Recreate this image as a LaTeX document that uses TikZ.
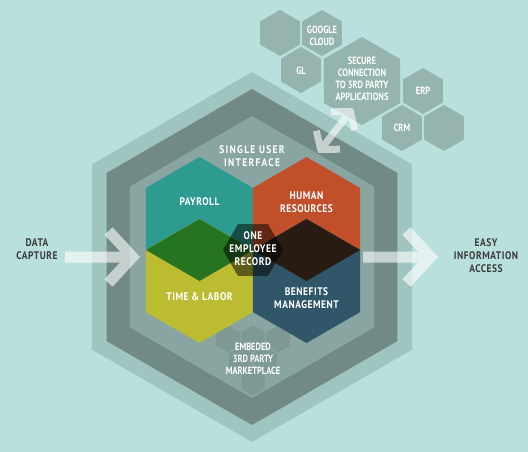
\documentclass[tikz,border=0pt]{standalone}
\usepackage{fontspec}
\setmainfont{PT Sans}[FakeStretch=0.86]
\usetikzlibrary{shapes.geometric,arrows.meta}

\definecolor{bgcol}{HTML}{B9E0DD}
\definecolor{outercol}{HTML}{A0C4C0}
\definecolor{ringcol}{HTML}{718A86}
\definecolor{innercol}{HTML}{88A5A1}
\definecolor{appcol}{HTML}{96B4AE}
\definecolor{mktcol}{HTML}{7E9894}
\definecolor{payrollcol}{HTML}{2D9B90}
\definecolor{hrcol}{HTML}{C1502A}
\definecolor{timecol}{HTML}{BCBC33}
\definecolor{benefitcol}{HTML}{325669}
\definecolor{greencol}{HTML}{26741F}
\definecolor{browncol}{HTML}{281C12}
\definecolor{labelgray}{HTML}{3B3B3B}

\newcommand\lab{\fontsize{11}{13}\selectfont\bfseries\addfontfeature{LetterSpace=5}}
\newcommand\widelab{\fontsize{11}{13}\selectfont\bfseries\addfontfeature{LetterSpace=12}}
\newcommand\smlab{\fontsize{10.5}{12}\selectfont\bfseries\addfontfeature{FakeStretch=0.8}}

\begin{document}
\begin{tikzpicture}[x=1pt,y=-1pt,
    hexa/.style = {regular polygon, regular polygon sides=6, shape border rotate=30,
                   inner sep=0pt, outer sep=0pt, minimum size=#1},
    flathex/.style = {regular polygon, regular polygon sides=6,
                   inner sep=0pt, outer sep=0pt, minimum size=#1},
    txt/.style = {text=white, align=center, font=\lab, inner sep=0pt},
    apptxt/.style = {text=white, align=center, font=\smlab, inner sep=0pt},
    sidetxt/.style = {text=labelgray, align=center, font=\lab, inner sep=0pt},
    bigarrow/.style = {white, line width=11pt, -{Straight Barb[length=24pt,width=52pt]}},
    duoarrow/.style = {white, line width=7pt, {Straight Barb[length=12pt,width=30pt]}-{Straight Barb[length=12pt,width=30pt]}}]

    \fill[bgcol] (0,0) rectangle (528,452);
    \useasboundingbox (0,0) rectangle (528,452);

    % the three rings
    \node[hexa=370pt, fill=outercol] (outerhex) at (252,257) {};
    \node[hexa=336pt, fill=ringcol]  (ringhex)  at (252,257) {};
    \node[hexa=282pt, fill=innercol] (innerhex) at (252,257) {};

    % embedded marketplace
    \foreach \x/\y [count=\i] in {228/339,253/339,278/339,240.5/360.5,265.5/360.5,253/382}
        \node[hexa=27pt, fill=mktcol] (mkt\i) at (\x,\y) {};

    % the four modules
    \node[hexa=124pt, fill=payrollcol] (payroll)   at (199.5,219) {};
    \node[hexa=124pt, fill=hrcol]      (hr)        at (306.5,219) {};
    \node[hexa=124pt, fill=timecol]    (timelabor) at (199.5,281) {};
    \node[hexa=124pt, fill=benefitcol] (benefits)  at (306.5,281) {};
    \fill[greencol] (payroll.south) -- (146,250) -- (timelabor.north) -- (253,250) -- cycle;
    \fill[browncol] (hr.south) -- (253,250) -- (benefits.north) -- (360,250) -- cycle;
    \node[flathex=60pt, fill=black, fill opacity=.5] (record) at (253,250) {};

    % outside applications
    \node[hexa=46pt, fill=appcol] (blankA) at (280,33) {};
    \node[hexa=46pt, fill=appcol] (google) at (322,33) {};
    \node[hexa=46pt, fill=appcol] (gl)     at (301,70) {};
    \node[hexa=88pt, fill=appcol] (secure) at (362,81) {};
    \node[hexa=46pt, fill=appcol] (erp)    at (423,91) {};
    \node[hexa=46pt, fill=appcol] (crm)    at (402,128) {};
    \node[hexa=46pt, fill=appcol] (blankB) at (444,128) {};

    % texts
    \node[txt, font=\widelab] (uitxt) at (252,156) {SINGLE USER\\INTERFACE};
    \node[txt] (payrolltxt) at (199.5,202) {PAYROLL};
    \node[txt] (hrtxt) at (306.5,202.5) {HUMAN\\RESOURCES};
    \node[txt] (recordtxt) at (253,249) {ONE\\EMPLOYEE\\RECORD};
    \node[txt] (timetxt) at (199.5,297) {TIME \& LABOR};
    \node[txt] (benefitstxt) at (306.5,298) {BENEFITS\\MANAGEMENT};
    \node[apptxt] (mkttxt) at (253,358.5) {EMBEDED\\3RD PARTY\\MARKETPLACE};
    \node[apptxt] (googletxt) at (322,35.5) {GOOGLE\\CLOUD};
    \node[apptxt] (gltxt) at (301,71) {GL};
    \node[apptxt] (securetxt) at (362,79) {SECURE\\CONNECTION\\TO 3RD PARTY\\APPLICATIONS};
    \node[apptxt] (erptxt) at (423,91) {ERP};
    \node[apptxt] (crmtxt) at (402,128) {CRM};
    \node[sidetxt] (capture) at (37,249.5) {DATA\\CAPTURE};
    \node[sidetxt] (access) at (486,256) {EASY\\INFORMATION\\ACCESS};

    % arrows
    \coordinate (captureend) at (65,257);
    \coordinate (capturetip) at (140,257);
    \coordinate (accessend) at (363,257);
    \coordinate (accesstip) at (438,257);
    \coordinate (linkin) at (318,153);
    \coordinate (linkout) at (353,108);
    \begin{scope}[transparency group, opacity=.6]
        \draw[bigarrow] (captureend) -- (capturetip);
        \draw[bigarrow] (accessend) -- (accesstip);
        \draw[duoarrow] (linkin) -- (linkout);
    \end{scope}
\end{tikzpicture}
\end{document}
